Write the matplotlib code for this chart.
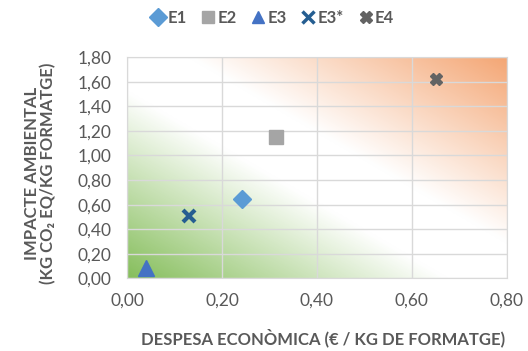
import numpy as np
import matplotlib.pyplot as plt
from matplotlib.colors import LinearSegmentedColormap
from matplotlib.lines import Line2D

plt.rcParams['font.family'] = ['Lato', 'DejaVu Sans']

series = ["E1", "E2", "E3", "E3*", "E4"]
cost = [0.243, 0.314, 0.041, 0.130, 0.651]
impact = [0.643, 1.148, 0.081, 0.510, 1.623]
markers = ["D", "s", "^", "x", "X"]
colors = ["#5B9BD5", "#A5A5A5", "#4472C4", "#255E91", "#636363"]
sizes = [9.5, 10, 11, 8, 9]

xticks = [0, 0.2, 0.4, 0.6, 0.8]
yticks = [0, 0.2, 0.4, 0.6, 0.8, 1.0, 1.2, 1.4, 1.6, 1.8]

grey = "#595959"

fig = plt.figure(figsize=(5.28, 3.51), dpi=100)
ax = fig.add_axes([0.2405, 0.207, 0.7195, 0.63])

# diagonal background gradient: green (bottom-left) -> white -> orange (top-right)
cmap = LinearSegmentedColormap.from_list(
    "bg", [(0.0, "#86BE5C"), (0.42, "#FFFFFF"), (0.58, "#FFFFFF"), (1.0, "#F4A674")])
u, v = np.meshgrid(np.linspace(0, 1, 300), np.linspace(0, 1, 300))
ax.imshow((u + v) / 2, cmap=cmap, origin="lower", extent=[0, 1, 0, 1],
          transform=ax.transAxes, aspect="auto", zorder=0, vmin=0, vmax=1)

for name, x, y, m, c, s in zip(series, cost, impact, markers, colors, sizes):
    if m == "x":
        ax.plot(x, y, m, color=c, ms=s, mew=3, zorder=3, label=name)
    else:
        ax.plot(x, y, m, color=c, ms=s, mec=c, zorder=3, label=name)

ax.set_xlim(0, 0.8)
ax.set_ylim(0, 1.8)
ax.set_xticks(xticks)
ax.set_yticks(yticks)
ax.set_xticklabels([f"{t:.2f}".replace(".", ",") for t in xticks])
ax.set_yticklabels([f"{t:.2f}".replace(".", ",") for t in yticks])
ax.tick_params(length=0, labelsize=12.5, colors=grey)
ax.tick_params(axis="x", pad=10)
ax.tick_params(axis="y", pad=11)
ax.grid(True, color="#D9D9D9", lw=1, zorder=1)
ax.set_axisbelow(False)
for sp in ax.spines.values():
    sp.set_color("#D9D9D9")

fig.text(0.612, 0.038, "DESPESA ECONÒMICA (€ / KG DE FORMATGE)", ha="center",
         va="center", fontsize=12, fontweight="bold", color=grey)
fig.text(0.076, 0.505, "IMPACTE AMBIENTAL\n(KG CO₂ EQ/KG FORMATGE)", ha="center",
         va="center", rotation=90, fontsize=12, fontweight="bold", color=grey,
         linespacing=1.05)

handles = []
for name, m, c in zip(series, markers, colors):
    if m == "x":
        handles.append(Line2D([], [], marker=m, ls="", color=c, ms=8, mew=2.5, label=name))
    else:
        handles.append(Line2D([], [], marker=m, ls="", color=c, ms=9, label=name))
fig.legend(handles=handles, loc="center", bbox_to_anchor=(0.515, 0.95), ncol=5,
           frameon=False, handletextpad=0.05, columnspacing=0.8, handlelength=1.0,
           prop={"size": 12, "weight": "bold"}, labelcolor=grey)

fig.savefig("out.png", dpi=100)
